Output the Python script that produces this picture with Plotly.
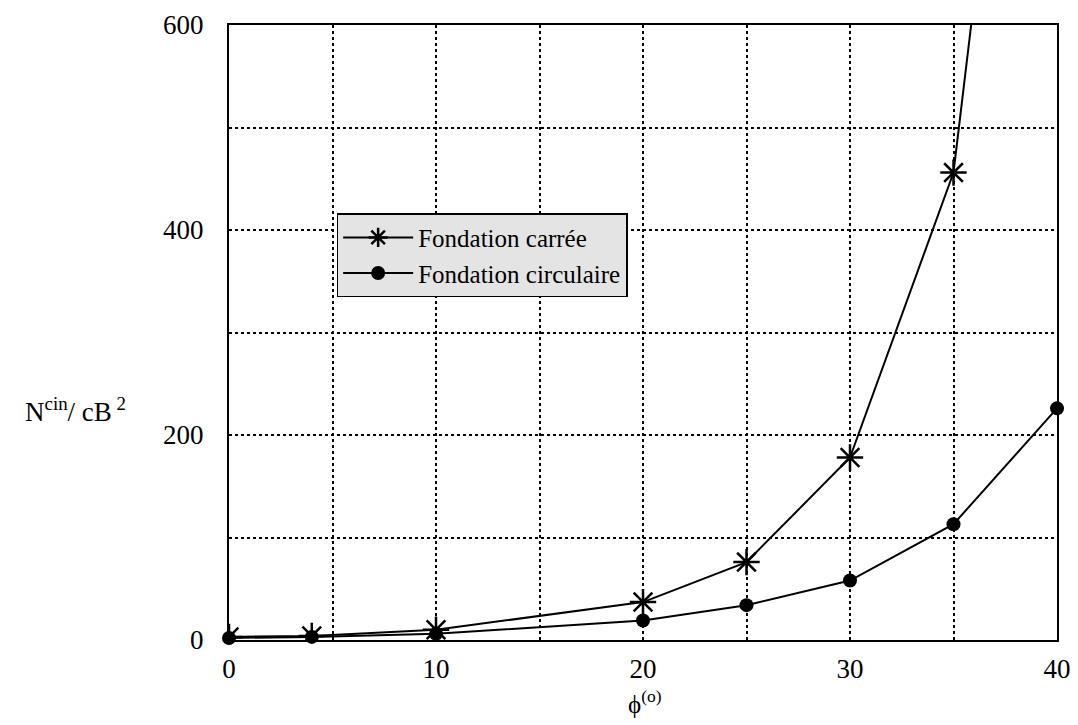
import plotly.graph_objects as go

# angle de frottement (degres)
phi = [0, 4, 10, 20, 25, 30, 35, 40]
# N^cin / cB^2
carree = [3, 4, 10, 37, 76, 178, 456, 1300]
circulaire = [2, 3, 6, 19, 34, 58, 113, 226]

grid_x = [0, 5, 10, 15, 20, 25, 30, 35, 40]
label_x = ["0", "", "10", "", "20", "", "30", "", "40"]
grid_y = [0, 100, 200, 300, 400, 500, 600]
label_y = ["0", "", "200", "", "400", "", "600"]

FONT = "Liberation Serif"

fig = go.Figure()
fig.add_trace(go.Scatter(x=phi, y=carree, mode="lines+markers",
                         name="Fondation carrée",
                         line=dict(color="black", width=2),
                         marker=dict(symbol="asterisk-open", size=22,
                                     line=dict(color="black", width=2.5))))
fig.add_trace(go.Scatter(x=phi, y=circulaire, mode="lines+markers",
                         name="Fondation circulaire",
                         line=dict(color="black", width=2),
                         marker=dict(symbol="circle", size=14, color="black"),
                         cliponaxis=False))

# page body has an 8px margin, so the figure is 8px smaller than the window
fig.update_layout(
    width=1070, height=717,
    margin=dict(l=221, r=21, t=17, b=85),
    plot_bgcolor="white", paper_bgcolor="white",
    font=dict(family=FONT, size=27, color="black"),
    showlegend=True,
    legend=dict(x=0.13, y=0.694, xanchor="left", yanchor="top",
                bgcolor="#e4e4e4", bordercolor="black", borderwidth=1.5,
                font=dict(family=FONT, size=25), itemwidth=70,
                tracegroupgap=0),
    xaxis=dict(range=[0, 40], tickmode="array", tickvals=grid_x, ticktext=label_x,
               showline=True, linecolor="black", linewidth=2, mirror=True,
               showgrid=True, gridcolor="black", griddash="dot", gridwidth=1.5,
               zeroline=False, ticks="", ticklabelstandoff=4, automargin=False),
    yaxis=dict(range=[0, 600], tickmode="array", tickvals=grid_y, ticktext=label_y,
               showline=True, linecolor="black", linewidth=2, mirror=True,
               showgrid=True, gridcolor="black", griddash="dot", gridwidth=1.5,
               zeroline=False, ticks="", ticklabelstandoff=18, automargin=False),
)

fig.add_annotation(text="N<sup>cin</sup>/ cB<sup> 2</sup>", xref="paper", yref="paper",
                   x=-0.185, y=0.374, xanchor="center", yanchor="middle",
                   showarrow=False, font=dict(family=FONT, size=27))
fig.add_annotation(text="\u03d5<sup>(o)</sup>", xref="paper", yref="paper",
                   x=0.502, y=-0.1, xanchor="center", yanchor="middle",
                   showarrow=False, font=dict(family=FONT, size=25))

fig.write_html("out.html")
